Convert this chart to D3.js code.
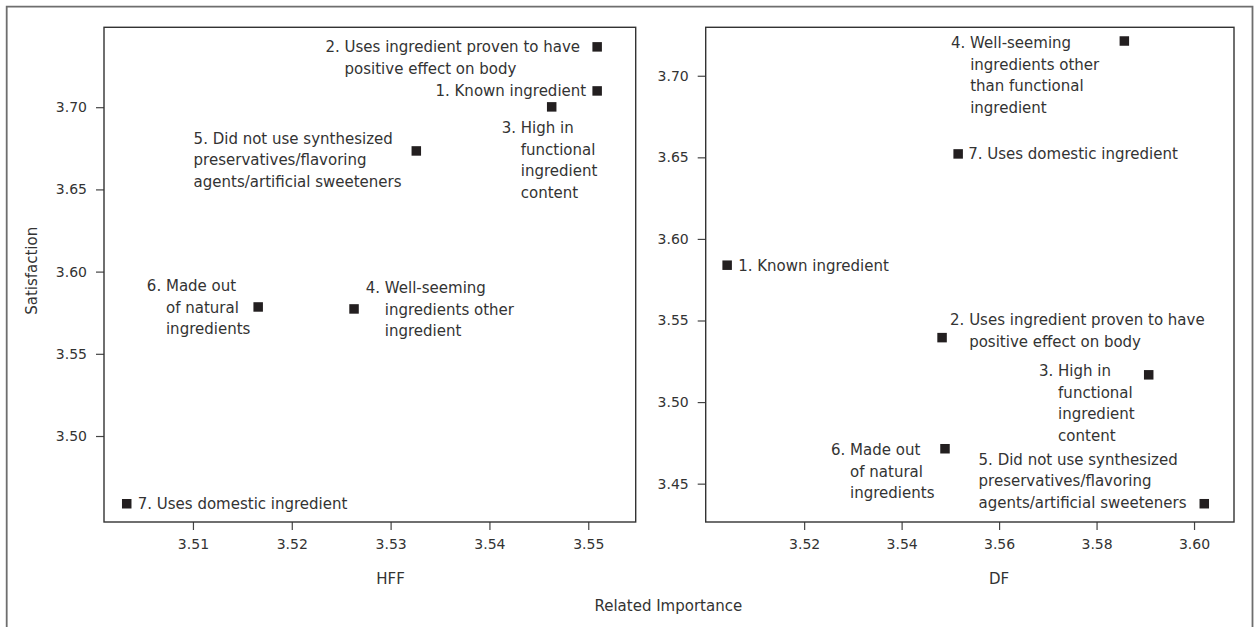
<!DOCTYPE html>
<html>
<head>
<meta charset="utf-8">
<script src="https://cdnjs.cloudflare.com/ajax/libs/d3/7.8.5/d3.min.js"></script>
<style>
  body { margin: 0; background: #fff; }
  svg text { font-family: "DejaVu Sans", sans-serif; fill: #333; }
  .tick text { font-size: 14px; }
  .tick line { stroke: #444; stroke-width: 1.2; }
  .lbl { font-size: 15px; }
</style>
</head>
<body>
<svg id="chart" width="1257" height="627"></svg>
<script>
// values, items 1..7
var itemNo = [1, 2, 3, 4, 5, 6, 7];

var hffImportance   = [3.5509, 3.5509, 3.5463, 3.5263, 3.5326, 3.5166, 3.5033];
var hffSatisfaction = [3.7099, 3.7367, 3.7002, 3.5773, 3.6734, 3.5785, 3.4588];

var dfImportance    = [3.5042, 3.5483, 3.5907, 3.5857, 3.6021, 3.5489, 3.5516];
var dfSatisfaction  = [3.5839, 3.5395, 3.5167, 3.7213, 3.4377, 3.4714, 3.6521];

var hffXDomain = [3.5010, 3.5548];
var hffYDomain = [3.4477, 3.7486];
var dfXDomain  = [3.4998, 3.6082];
var dfYDomain  = [3.4265, 3.7297];

var hffXTicks = [3.51, 3.52, 3.53, 3.54, 3.55];
var dfXTicks  = [3.52, 3.54, 3.56, 3.58, 3.60];
var hffYTicks = [3.50, 3.55, 3.60, 3.65, 3.70];
var dfYTicks  = [3.45, 3.50, 3.55, 3.60, 3.65, 3.70];

// label text, line by line, for each panel
var hffLines = [
	["1. Known ingredient"],
	["2. Uses ingredient proven to have", "positive effect on body"],
	["3. High in", "functional", "ingredient", "content"],
	["4. Well-seeming", "ingredients other", "ingredient"],
	["5. Did not use synthesized", "preservatives/flavoring", "agents/artificial sweeteners"],
	["6. Made out", "of natural", "ingredients"],
	["7. Uses domestic ingredient"]
];
var dfLines = [
	["1. Known ingredient"],
	["2. Uses ingredient proven to have", "positive effect on body"],
	["3. High in", "functional", "ingredient", "content"],
	["4. Well-seeming", "ingredients other", "than functional", "ingredient"],
	["5. Did not use synthesized", "preservatives/flavoring", "agents/artificial sweeteners"],
	["6. Made out", "of natural", "ingredients"],
	["7. Uses domestic ingredient"]
];

// label placement relative to the marker (layout only)
var hffOffsets = [[-161.7, 0], [-271.7, 0], [-50, 21], [11.7, -21.3], [-222.7, -12.4], [-111.3, -21.3], [11, 0]];
var dfOffsets  = [[11, 0], [8, -17.6], [-109.7, -4], [-173.3, 1.7], [-225.7, -44.4], [-114, 1], [10, 0]];
var hangIndent = [true, true, true, true, false, true, true];

var svg = d3.select("#chart");
var plotTop = 27.3, plotBottom = 522;
var lineH = 21.5, markSize = 9.5;

// outer frame (open at the bottom)
svg.append("path")
	.attr("d", "M6.7,640 L6.7,6.7 L1252.5,6.7 L1252.5,640")
	.attr("fill", "none")
	.attr("stroke", "#6e6e6e")
	.attr("stroke-width", 1.8);

function drawPanel(left, right, xs, ys, xDom, yDom, xTicks, yTicks, lines, offsets, title){
	var x = d3.scaleLinear().domain(xDom).range([left, right]);
	var y = d3.scaleLinear().domain(yDom).range([plotBottom, plotTop]);

	var g = svg.append("g");

	g.append("g")
		.attr("transform", "translate(0," + plotBottom + ")")
		.call(d3.axisBottom(x).tickValues(xTicks).tickFormat(d3.format(".2f")).tickSize(8).tickPadding(9))
		.call(function(a){ a.select(".domain").remove(); });

	g.append("g")
		.attr("transform", "translate(" + left + ",0)")
		.call(d3.axisLeft(y).tickValues(yTicks).tickFormat(d3.format(".2f")).tickSize(8).tickPadding(9))
		.call(function(a){ a.select(".domain").remove(); });

	g.append("rect")
		.attr("x", left).attr("y", plotTop)
		.attr("width", right - left).attr("height", plotBottom - plotTop)
		.attr("fill", "none")
		.attr("stroke", "#333")
		.attr("stroke-width", 1.4);

	g.selectAll("rect.pt").data(itemNo).enter().append("rect")
		.attr("class", "pt")
		.attr("x", function(d, i){ return x(xs[i]) - markSize / 2; })
		.attr("y", function(d, i){ return y(ys[i]) - markSize / 2; })
		.attr("width", markSize)
		.attr("height", markSize)
		.attr("fill", "#231f20");

	itemNo.forEach(function(d, i){
		var px = x(xs[i]) + offsets[i][0];
		var py = y(ys[i]) + offsets[i][1];
		var t = g.append("text").attr("class", "lbl");
		var indent = 0;
		if (hangIndent[i]) {
			var probe = g.append("text").attr("class", "lbl").style("white-space", "pre").text(d + ". ");
			indent = probe.node().getComputedTextLength();
			probe.remove();
		}
		lines[i].forEach(function(s, k){
			t.append("tspan")
				.attr("x", k == 0 ? px : px + indent)
				.attr("y", py + k * lineH)
				.attr("dy", "0.36em")
				.text(s);
		});
	});

	g.append("text")
		.attr("class", "lbl")
		.attr("x", x(xTicks[2]))
		.attr("y", 579)
		.attr("dy", "0.36em")
		.attr("text-anchor", "middle")
		.text(title);
}

drawPanel(104, 635.7, hffImportance, hffSatisfaction, hffXDomain, hffYDomain, hffXTicks, hffYTicks, hffLines, hffOffsets, "HFF");
drawPanel(705.7, 1234, dfImportance, dfSatisfaction, dfXDomain, dfYDomain, dfXTicks, dfYTicks, dfLines, dfOffsets, "DF");

svg.append("text")
	.attr("class", "lbl")
	.attr("transform", "translate(31.7,270.8) rotate(-90)")
	.attr("dy", "0.36em")
	.attr("text-anchor", "middle")
	.text("Satisfaction");

svg.append("text")
	.attr("class", "lbl")
	.attr("x", 668.3)
	.attr("y", 606)
	.attr("dy", "0.36em")
	.attr("text-anchor", "middle")
	.text("Related Importance");
</script>
</body>
</html>
